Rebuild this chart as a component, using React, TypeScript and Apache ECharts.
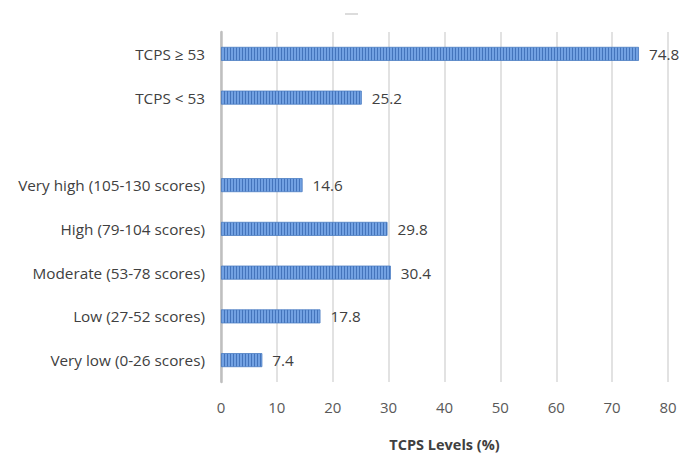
import React, { useEffect, useRef } from "react";
import * as echarts from "echarts";

const categories = [
  "TCPS ≥ 53",
  "TCPS < 53",
  "",
  "Very high (105-130 scores)",
  "High (79-104 scores)",
  "Moderate (53-78 scores)",
  "Low (27-52 scores)",
  "Very low (0-26 scores)",
];
const values: (number | string)[] = [74.8, 25.2, "-", 14.6, 29.8, 30.4, 17.8, 7.4];
const axisName = "TCPS Levels (%)";

function makePattern(): HTMLCanvasElement {
  const c = document.createElement("canvas");
  c.width = 3;
  c.height = 4;
  const ctx = c.getContext("2d")!;
  ctx.fillStyle = "#72a1e2";
  ctx.fillRect(0, 0, 3, 4);
  ctx.fillStyle = "#4474bb";
  ctx.fillRect(2, 0, 1, 4);
  return c;
}

export default function App() {
  const ref = useRef<HTMLDivElement>(null);
  useEffect(() => {
    if (!ref.current) return;
    const chart = echarts.init(ref.current, null, { renderer: "svg" });
    const pattern = makePattern();
    chart.setOption({
      animation: false,
      backgroundColor: "#ffffff",
      textStyle: { fontFamily: "Open Sans" },
      grid: { left: 221, right: 19, top: 32, bottom: 73 },
      xAxis: {
        type: "value",
        min: 0,
        max: 80,
        interval: 10,
        name: axisName,
        nameLocation: "middle",
        nameGap: 55,
        nameTextStyle: { fontSize: 14.5, fontWeight: "bold", color: "#404040", fontFamily: "Open Sans" },
        axisLine: { show: false },
        axisTick: { show: false },
        axisLabel: { fontSize: 15, color: "#595959", margin: 17 },
        splitLine: { show: true, lineStyle: { color: "#d9d9d9", width: 1.5 } },
      },
      yAxis: {
        type: "category",
        data: categories,
        inverse: true,
        axisLine: { show: true, lineStyle: { color: "#bfbfbf", width: 2.5 } },
        axisTick: { show: false },
        axisLabel: { fontSize: 15.3, color: "#404040", margin: 16 },
        splitLine: { show: false },
      },
      series: [
        {
          type: "bar",
          data: values,
          barWidth: 14,
          itemStyle: {
            color: { image: pattern, repeat: "repeat" },
            borderColor: "#4a7cc2",
            borderWidth: 0.8,
          },
          label: {
            show: true,
            position: "right",
            distance: 10,
            fontSize: 15.3,
            color: "#404040",
          },
        },
      ],
      graphic: [
        {
          type: "line",
          shape: { x1: 345, y1: 14, x2: 358, y2: 14 },
          style: { stroke: "#d0d0d0", lineWidth: 1.5 },
        },
      ],
    });
    return () => chart.dispose();
  }, []);
  return (
    <div
      ref={ref}
      style={{ position: "fixed", left: 0, top: 0, width: 687, height: 457 }}
    />
  );
}
